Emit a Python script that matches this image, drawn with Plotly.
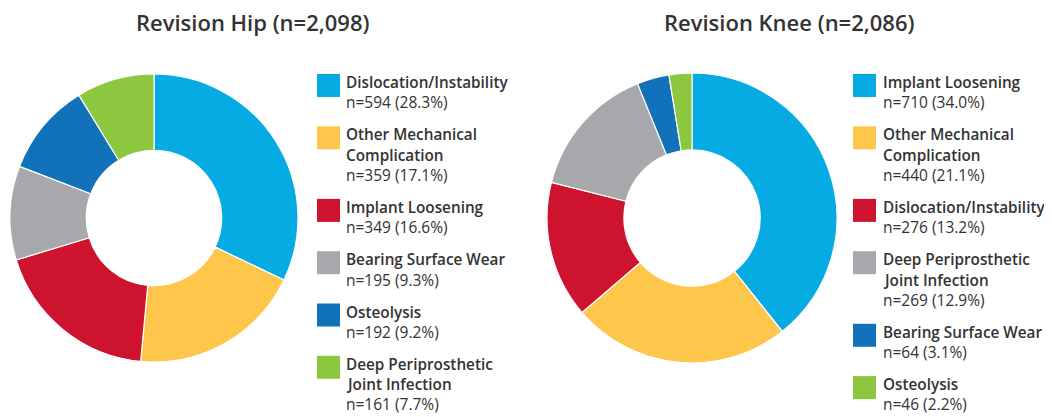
import plotly.graph_objects as go

# ---- data ----
hip_labels = ["Dislocation/Instability", "Other Mechanical Complication", "Implant Loosening",
              "Bearing Surface Wear", "Osteolysis", "Deep Periprosthetic Joint Infection"]
hip_counts = [594, 359, 349, 195, 192, 161]
hip_pcts = [28.3, 17.1, 16.6, 9.3, 9.2, 7.7]
hip_label_lines = [["Dislocation/Instability"], ["Other Mechanical", "Complication"], ["Implant Loosening"],
                   ["Bearing Surface Wear"], ["Osteolysis"], ["Deep Periprosthetic", "Joint Infection"]]

knee_labels = ["Implant Loosening", "Other Mechanical Complication", "Dislocation/Instability",
               "Deep Periprosthetic Joint Infection", "Bearing Surface Wear", "Osteolysis"]
knee_counts = [710, 440, 276, 269, 64, 46]
knee_pcts = [34.0, 21.1, 13.2, 12.9, 3.1, 2.2]
knee_label_lines = [["Implant Loosening"], ["Other Mechanical", "Complication"], ["Dislocation/Instability"],
                    ["Deep Periprosthetic", "Joint Infection"], ["Bearing Surface Wear"], ["Osteolysis"]]

hip_title = "Revision Hip (n=2,098)"
knee_title = "Revision Knee (n=2,086)"

hip_colors = ["#06ABE4", "#FEC64B", "#CE132F", "#A7A8AC", "#1171B9", "#8DC63F"]
knee_colors = ["#06ABE4", "#FEC64B", "#CE132F", "#A7A8AC", "#1171B9", "#8DC63F"]

PAGE_W, PAGE_H = 1052, 417
OFF = 8  # page body margin
W, H = PAGE_W - OFF, PAGE_H - OFF
FONT = "Open Sans"
TXT = "#333333"

def px(x):
    return (x - OFF) / W

def py(y):
    return 1 - (y - OFF) / H

fig = go.Figure()

def add_pie(labels, values, colors, x0, x1, y0, y1):
    fig.add_trace(go.Pie(
        labels=labels, values=values, sort=False, direction="clockwise", rotation=0,
        hole=0.47, marker=dict(colors=colors, line=dict(color="white", width=1.2)),
        textinfo="none", hoverinfo="label+value", showlegend=False,
        domain=dict(x=[px(x0), px(x1)], y=[py(y1), py(y0)]),
    ))

add_pie(hip_labels, hip_pcts, hip_colors, 10, 298, 74, 362)
add_pie(knee_labels, knee_pcts, knee_colors, 547, 837, 73, 363)

annotations = []
shapes = []

def add_title(text, cx):
    annotations.append(dict(text=text, x=px(cx), y=py(22.5), xref="paper", yref="paper",
                            xanchor="center", yanchor="middle", showarrow=False,
                            font=dict(family=FONT, size=22, color=TXT, weight=600)))

add_title(hip_title, 252)
add_title(knee_title, 789)

def add_legend(label_lines, counts, pcts, colors, sq_x, txt_x, first_y):
    y = first_y
    for lines, c, p, col in zip(label_lines, counts, pcts, colors):
        shapes.append(dict(type="rect", xref="paper", yref="paper",
                           x0=px(sq_x), x1=px(sq_x + 23), y0=py(y - 8), y1=py(y + 15),
                           fillcolor=col, line=dict(width=0)))
        for ln in lines:
            annotations.append(dict(text=ln, x=px(txt_x), y=py(y), xref="paper", yref="paper",
                                    xanchor="left", yanchor="middle", showarrow=False,
                                    font=dict(family=FONT, size=15.3, color=TXT, weight=600)))
            y += 20.3
        annotations.append(dict(text=f"n={c} ({p:.1f}%)", x=px(txt_x), y=py(y), xref="paper", yref="paper",
                                xanchor="left", yanchor="middle", showarrow=False,
                                font=dict(family=FONT, size=15.5, color=TXT)))
        y += 32

add_legend(hip_label_lines, hip_counts, hip_pcts, hip_colors, 317, 344, 82)
add_legend(knee_label_lines, knee_counts, knee_pcts, knee_colors, 853, 881, 82)

fig.update_layout(width=W, height=H, margin=dict(l=0, r=0, t=0, b=0),
                  paper_bgcolor="white", plot_bgcolor="white",
                  annotations=annotations, shapes=shapes,
                  font=dict(family=FONT, color=TXT))

fig.write_html("out.html")
